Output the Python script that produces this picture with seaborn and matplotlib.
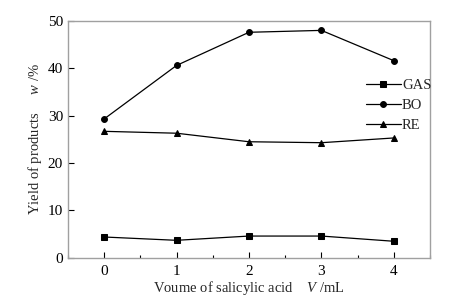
import matplotlib
matplotlib.use("Agg")
import matplotlib.pyplot as plt
import seaborn as sns
import pandas as pd
from matplotlib.ticker import MultipleLocator

volume = [0, 1, 2, 3, 4]
gas = [4.4, 3.7, 4.6, 4.6, 3.5]
bo = [29.3, 40.6, 47.6, 48.0, 41.6]
re_ = [26.7, 26.3, 24.5, 24.3, 25.3]

sns.set_style("ticks")
plt.rcParams['font.family'] = ['Liberation Serif', 'DejaVu Serif']
plt.rcParams['mathtext.fontset'] = 'custom'
plt.rcParams['mathtext.it'] = 'Liberation Serif:italic'
plt.rcParams['mathtext.rm'] = 'Liberation Serif'

df = pd.DataFrame({"V": volume, "GAS": gas, "BO": bo, "RE": re_})

fig = plt.figure(figsize=(4.68, 3.03), dpi=100)
ax = fig.add_axes([0.145, 0.149, 0.774, 0.782])

markers = {"GAS": "s", "BO": "o", "RE": "^"}
for name in ["GAS", "BO", "RE"]:
    sns.lineplot(data=df, x="V", y=name, ax=ax, color="black", lw=0.9,
                 marker=markers[name], markersize=4.2, markeredgecolor="black",
                 label=name)

ax.set_xlim(-0.5, 4.5)
ax.set_ylim(0, 50)
ax.xaxis.set_major_locator(MultipleLocator(1))
ax.xaxis.set_minor_locator(MultipleLocator(0.5))
ax.yaxis.set_major_locator(MultipleLocator(10))
ax.tick_params(direction="in", which="both", labelsize=11, colors="black",
               top=False, right=False)
ax.tick_params(which="major", length=4, width=0.8)
ax.tick_params(which="minor", length=2.5, width=0.8)
ax.tick_params(axis="x", pad=5)
for s in ax.spines.values():
    s.set_color("#a0a0a0")
    s.set_linewidth(1.0)

ax.set_xlabel(r"Voume of salicylic acid    $\it{V}$ /mL", fontsize=10.5, labelpad=1)
ax.set_ylabel(r"Yield of products     $\it{w}$ /%", fontsize=10.5, labelpad=3)

ax.legend(loc="upper right", bbox_to_anchor=(1.02, 0.78), frameon=False,
          fontsize=10.5, handlelength=2.4, handletextpad=0.1,
          labelspacing=0.45, borderaxespad=0)

fig.savefig("out.png", dpi=100)
